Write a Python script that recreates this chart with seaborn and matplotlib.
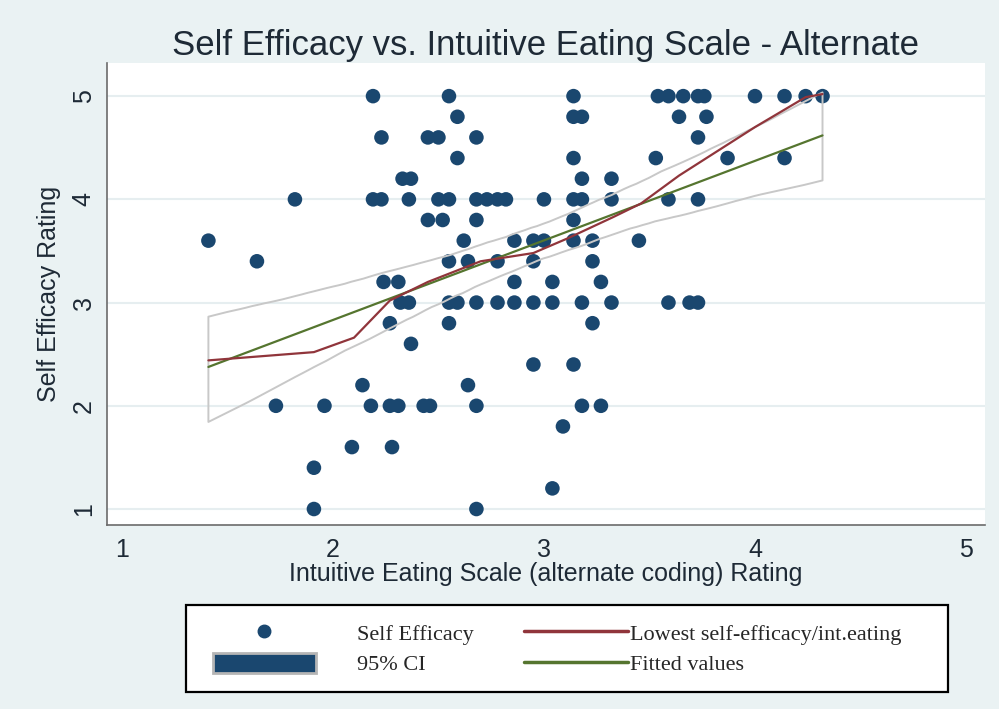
import numpy as np
import pandas as pd
import matplotlib
matplotlib.use('Agg')
import matplotlib.pyplot as plt
import seaborn as sns
from matplotlib.lines import Line2D
from matplotlib.patches import Patch, Rectangle

# intuitive eating score (x) and self efficacy rating (y), read row by row
ie_score = [2.19, 2.55, 3.14, 3.54, 3.59, 3.66, 3.73, 3.76, 4.00, 4.14, 4.24, 4.32,
            2.59, 3.14, 3.18, 3.64, 3.77,
            2.23, 2.45, 2.50, 2.68, 3.73,
            2.59, 3.14, 3.53, 3.87, 4.14,
            2.33, 2.37, 3.18, 3.32,
            1.82, 2.19, 2.23, 2.36, 2.50, 2.55, 2.68, 2.73, 2.78, 2.82, 3.00, 3.14, 3.18, 3.32, 3.59, 3.73,
            2.45, 2.52, 2.68, 3.14,
            1.41, 2.62, 2.86, 2.95, 3.00, 3.14, 3.23, 3.45,
            1.64, 2.55, 2.64, 2.78, 2.95, 3.23,
            2.24, 2.31, 2.86, 3.04, 3.27,
            2.32, 2.36, 2.55, 2.59, 2.68, 2.78, 2.86, 2.95, 3.04, 3.18, 3.32, 3.59, 3.69, 3.73,
            2.27, 2.55, 3.23,
            2.37,
            2.95, 3.14,
            2.14, 2.64,
            1.73, 1.96, 2.18, 2.27, 2.31, 2.43, 2.46, 2.68, 3.18, 3.27,
            3.09,
            2.09, 2.28,
            1.91,
            3.04,
            1.91, 2.68]
se_rating = ([5.0] * 12 + [4.8] * 5 + [4.6] * 5 + [4.4] * 5 + [4.2] * 4 + [4.0] * 16 +
             [3.8] * 4 + [3.6] * 8 + [3.4] * 6 + [3.2] * 5 + [3.0] * 14 + [2.8] * 3 +
             [2.6] * 1 + [2.4] * 2 + [2.2] * 2 + [2.0] * 10 + [1.8] * 1 + [1.6] * 2 +
             [1.4] * 1 + [1.2] * 1 + [1.0] * 2)

# lowess curve
lowess_x = [1.41, 1.91, 2.10, 2.27, 2.45, 2.70, 2.95, 3.11, 3.33, 3.46, 3.64, 4.00, 4.24, 4.32]
lowess_y = [2.44, 2.52, 2.66, 3.02, 3.20, 3.40, 3.48, 3.62, 3.83, 3.96, 4.23, 4.70, 4.99, 5.02]

df = pd.DataFrame({'ie': ie_score, 'se': se_rating})

sns.set_style('white')
plt.rcParams['font.family'] = ['Liberation Sans', 'DejaVu Sans']

navy = '#1a476f'
maroon = '#90353b'
green = '#55752f'
bg = '#eaf2f3'
txt = '#1e2a36'

fig = plt.figure(figsize=(9.99, 7.09), dpi=100, facecolor=bg)
ax = fig.add_axes([0.107, 0.2595, 0.879, 0.6515])
ax.set_facecolor('white')

sns.scatterplot(data=df, x='ie', y='se', ax=ax, color=navy, s=110, edgecolor='none', zorder=3)
sns.regplot(data=df, x='ie', y='se', ax=ax, scatter=False, ci=95, seed=7,
            line_kws={'color': green, 'lw': 1.6, 'zorder': 5})
band = ax.collections[-1]
band.set_alpha(1)
band.set_facecolor('none')
band.set_edgecolor('#c8c8c8')
band.set_linewidth(1.4)
band.set_zorder(4)
sns.lineplot(x=lowess_x, y=lowess_y, ax=ax, color=maroon, lw=1.6, zorder=5, sort=False)

ax.set_xlim(0.929, 5.09)
ax.set_ylim(0.845, 5.32)
ax.set_xticks([1, 2, 3, 4, 5])
ax.set_yticks([1, 2, 3, 4, 5])
ax.yaxis.grid(True, color='#e6eef0', lw=1.5)
ax.set_axisbelow(True)
for s in ['top', 'right']:
    ax.spines[s].set_visible(False)
for s in ['left', 'bottom']:
    ax.spines[s].set_color('#6b6b6b')
    ax.spines[s].set_linewidth(1.2)
lab = 18
ax.tick_params(axis='both', direction='out', length=6, width=1.1, color='#6b6b6b',
               labelsize=lab, labelcolor=txt)
ax.tick_params(axis='y', pad=2)
plt.setp(ax.get_yticklabels(), rotation=90, va='center')
ax.set_xlabel('Intuitive Eating Scale (alternate coding) Rating', fontsize=lab, color=txt, labelpad=0)
ax.set_ylabel('Self Efficacy Rating', fontsize=lab, color=txt, labelpad=8)
ax.set_title('Self Efficacy vs. Intuitive Eating Scale - Alternate',
             fontsize=25, color=txt, pad=6)

# legend box
fig.add_artist(Rectangle((0.186, 0.024), 0.763, 0.123, transform=fig.transFigure,
                         facecolor='white', edgecolor='black', lw=1.6, zorder=1))
serif = {'family': 'Liberation Serif', 'size': 16}
h1 = [Line2D([], [], marker='o', ls='', color=navy, markersize=9),
      Patch(facecolor=navy, edgecolor='#b5b5b5', lw=2)]
leg1 = fig.legend(h1, ['Self Efficacy', '95% CI'], loc='center left',
                  bbox_to_anchor=(0.213, 0.0846), frameon=False, prop=serif,
                  handlelength=4.65, handleheight=1.0, handletextpad=1.85,
                  borderpad=0, borderaxespad=0, labelspacing=0.35)
h2 = [Line2D([], [], color=maroon, lw=2.5), Line2D([], [], color=green, lw=2.5)]
leg2 = fig.legend(h2, ['Lowest self-efficacy/int.eating', 'Fitted values'], loc='center left',
                  bbox_to_anchor=(0.5245, 0.0846), frameon=False, prop=serif,
                  handlelength=4.68, handleheight=1.0, handletextpad=0.1,
                  borderpad=0, borderaxespad=0, labelspacing=0.35)
leg1.set_zorder(2)
leg2.set_zorder(2)

fig.savefig('out.png', dpi=100, facecolor=bg)
